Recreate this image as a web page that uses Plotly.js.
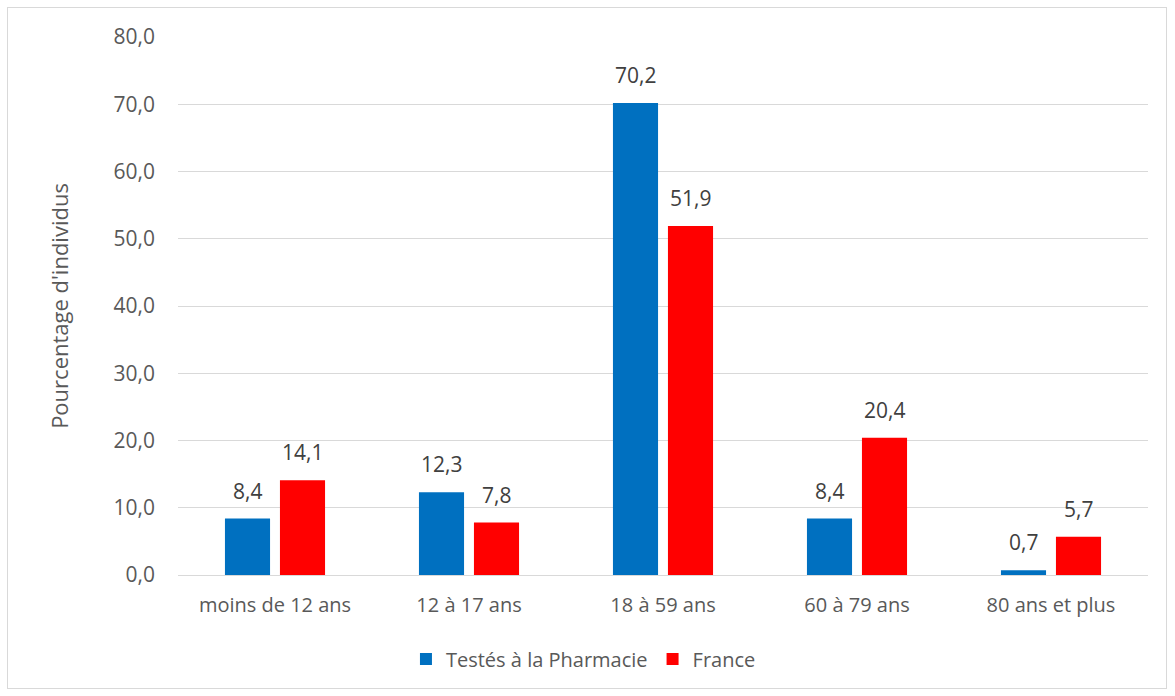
<!DOCTYPE html>
<html>
<head>
<meta charset="utf-8">
<script src="https://cdn.plot.ly/plotly-3.0.1.min.js"></script>
<style>
  html, body { margin: 0; padding: 0; background: #fff; }
  #wrap { position: relative; width: 1175px; height: 696px; }
  #chart { width: 1175px; height: 696px; }
  #frame { position: absolute; left: 7px; top: 7px; width: 1160px; height: 682px;
           border: 1px solid #d9d9d9; pointer-events: none; box-sizing: border-box; }
</style>
</head>
<body>
<div id="wrap">
  <div id="chart"></div>
  <div id="frame"></div>
</div>
<script>
const categories = ["moins de 12 ans", "12 à 17 ans", "18 à 59 ans", "60 à 79 ans", "80 ans et plus"];
const pharmacie = [8.4, 12.3, 70.2, 8.4, 0.7];
const france = [14.1, 7.8, 51.9, 20.4, 5.7];
const seriesNames = ["Testés à la Pharmacie", "France"];
const yTicks = [0, 10, 20, 30, 40, 50, 60, 70, 80];

const fontFam = "Open Sans, Lato, sans-serif";
const txtColor = "#595959";
const labelColor = "#404040";

const traces = [
  {
    type: "bar", name: seriesNames[0], x: categories, y: pharmacie,
    marker: { color: "#0070C0" }, hoverinfo: "none"
  },
  {
    type: "bar", name: seriesNames[1], x: categories, y: france,
    marker: { color: "#FF0000" }, hoverinfo: "none"
  }
];

// value labels above each bar (offset to each bar of the group)
const annotations = [];
const fmt = v => v.toFixed(1).replace(".", ",");
categories.forEach((c, i) => {
  [[pharmacie, -27.5], [france, 27.5]].forEach(([arr, dx]) => {
    annotations.push({
      x: c, y: arr[i], xref: "x", yref: "y",
      text: fmt(arr[i]), showarrow: false,
      xanchor: "center", yanchor: "bottom", xshift: dx, yshift: 12,
      font: { family: fontFam, size: 21, color: labelColor }
    });
  });
});

const layout = {
  width: 1175, height: 696,
  margin: { l: 178, r: 27, t: 37, b: 121 },
  paper_bgcolor: "#fff", plot_bgcolor: "#fff",
  separators: ", ",
  barmode: "group", bargap: 0.433, bargroupgap: 0.18,
  font: { family: fontFam, size: 21, color: txtColor },
  showlegend: true,
  annotations: annotations,
  legend: {
    orientation: "h", x: 0.418, xanchor: "center", y: -0.156, yanchor: "middle",
    font: { family: fontFam, size: 20, color: txtColor },
    itemwidth: 30, traceorder: "normal"
  },
  xaxis: {
    type: "category", showgrid: false, zeroline: false, showline: false,
    ticks: "", ticklabelstandoff: 16,
    tickfont: { family: fontFam, size: 20, color: txtColor }
  },
  yaxis: {
    range: [0, 80], tickvals: yTicks, tickformat: ".1f",
    showgrid: true, gridcolor: "#d9d9d9", gridwidth: 1,
    zeroline: true, zerolinecolor: "#d9d9d9", zerolinewidth: 1,
    showline: false, ticks: "", ticklabelstandoff: 22,
    tickfont: { family: fontFam, size: 21, color: txtColor },
    title: { text: "Pourcentage d'individus", standoff: 38,
             font: { family: fontFam, size: 22, color: txtColor } }
  }
};

Plotly.newPlot("chart", traces, layout, { staticPlot: true, displayModeBar: false });
</script>
</body>
</html>
